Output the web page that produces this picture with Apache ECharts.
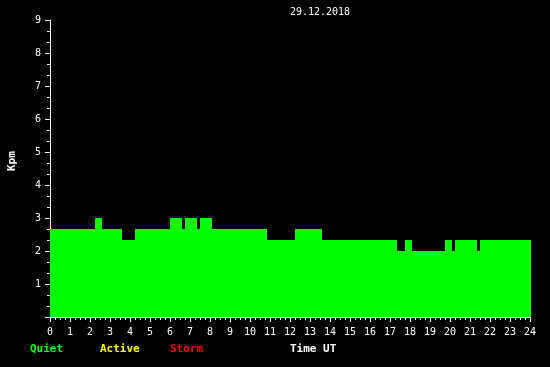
<!DOCTYPE html>
<html>
<head>
<meta charset="utf-8">
<style>
html,body{margin:0;padding:0;background:#000;}
#chart{width:550px;height:367px;}
</style>
<script src="https://cdn.jsdelivr.net/npm/echarts@6/dist/echarts.min.js"></script>
</head>
<body>
<div id="chart"></div>
<script>
// Segment start times (hours UT) and Kpm values; each segment lasts until the next start.
var segStart = [0, 2.25, 2.55, 3.55, 4.25, 6.0, 6.55, 6.75, 7.3, 7.5, 8.05, 10.8, 12.25, 13.55, 17.3, 17.75, 18.05, 19.75, 20.05, 20.25, 21.3, 21.5];
var segValue = [2.67, 3, 2.67, 2.33, 2.67, 3, 2.67, 3, 2.67, 3, 2.67, 2.33, 2.67, 2.33, 2, 2.33, 2, 2.33, 2, 2.33, 2, 2.33];
var dayEnd = 24;
var xTicks = [0,1,2,3,4,5,6,7,8,9,10,11,12,13,14,15,16,17,18,19,20,21,22,23,24];
var yTicks = [0,1,2,3,4,5,6,7,8,9];
var titleText = '29.12.2018';
var yName = 'Kpm';
var legendItems = ['Quiet', 'Active', 'Storm'];
var xName = 'Time UT';

var segData = segStart.map(function (s, i) {
  var e = i < segStart.length - 1 ? segStart[i + 1] : dayEnd;
  return [s, e, segValue[i]];
});

var mono = "'DejaVu Sans Mono', monospace";
var chart = echarts.init(document.getElementById('chart'), null, {renderer: 'canvas'});
chart.setOption({
  backgroundColor: '#000',
  animation: false,
  grid: {left: 50, right: 20, top: 20, bottom: 50},
  xAxis: {
    type: 'value', min: xTicks[0], max: xTicks[xTicks.length - 1], interval: 1,
    axisLine: {show: true, lineStyle: {color: '#fff', width: 1}},
    axisTick: {show: true, length: 5, lineStyle: {color: '#fff'}},
    minorTick: {show: true, splitNumber: 4, length: 3, lineStyle: {color: '#fff'}},
    splitLine: {show: false},
    axisLabel: {color: '#fff', fontFamily: mono, fontSize: 10, margin: 10,
      formatter: function (v) { return xTicks.indexOf(v) >= 0 ? String(v) : ''; }}
  },
  yAxis: {
    type: 'value', min: yTicks[0], max: yTicks[yTicks.length - 1], interval: 1,
    axisLine: {show: true, lineStyle: {color: '#fff', width: 1}},
    axisTick: {show: true, length: 5, lineStyle: {color: '#fff'}},
    minorTick: {show: true, splitNumber: 3, length: 3, lineStyle: {color: '#fff'}},
    splitLine: {show: false},
    axisLabel: {color: '#fff', fontFamily: mono, fontSize: 10, margin: 9,
      formatter: function (v) { return v === 0 ? '' : String(v); }}
  },
  series: [{
    type: 'custom',
    data: segData,
    encode: {x: [0, 1], y: 2},
    renderItem: function (params, api) {
      var p0 = api.coord([api.value(0), api.value(2)]);
      var p1 = api.coord([api.value(1), 0]);
      return {
        type: 'rect',
        shape: {x: p0[0], y: p0[1], width: p1[0] - p0[0] + 1, height: p1[1] - p0[1]},
        style: {fill: '#00ff00'}
      };
    },
    z: 1
  }],
  graphic: [
    {type: 'text', x: 320, y: 7, style: {text: titleText, fill: '#fff', font: "10px " + mono, textAlign: 'center'}},
    {type: 'text', rotation: Math.PI / 2, x: 7, y: 171, style: {text: yName, fill: '#fff', font: "bold 11px " + mono}},
    {type: 'text', x: 30, y: 344, style: {text: legendItems[0], fill: '#00ff00', font: "bold 11px " + mono}},
    {type: 'text', x: 100, y: 344, style: {text: legendItems[1], fill: '#ffff00', font: "bold 11px " + mono}},
    {type: 'text', x: 170, y: 344, style: {text: legendItems[2], fill: '#ff0000', font: "bold 11px " + mono}},
    {type: 'text', x: 290, y: 344, style: {text: xName, fill: '#fff', font: "bold 11px " + mono}}
  ]
});
</script>
</body>
</html>
